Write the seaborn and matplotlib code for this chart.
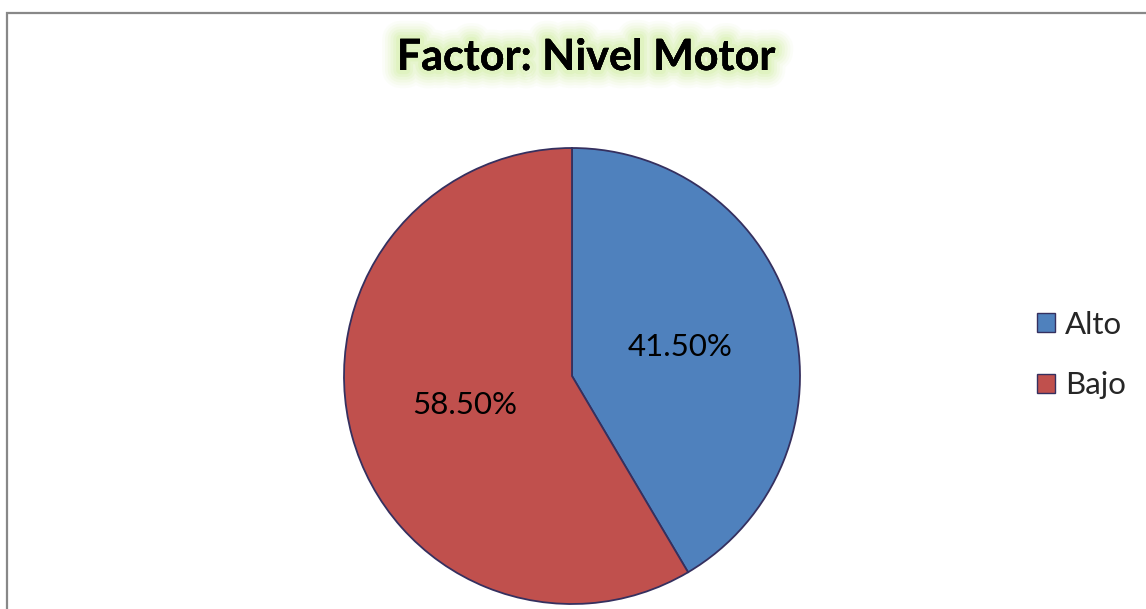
import matplotlib
matplotlib.use("Agg")
import matplotlib.pyplot as plt
import matplotlib.patheffects as pe
from matplotlib.patches import Rectangle, Patch
import seaborn as sns

categories = ["Alto", "Bajo"]
values = [41.5, 58.5]
colors = ["#4F81BD", "#C0504D"]
title = "Factor: Nivel Motor"

sns.set_theme(style="white")
plt.rcParams['font.family'] = ['Lato', 'DejaVu Sans']

W, H = 1146, 609
fig = plt.figure(figsize=(W / 100, H / 100), dpi=100)
fig.patch.set_facecolor("white")

# outer chart border (cropped at right/bottom)
fig.patches.append(Rectangle((6.5 / W, -0.05), 1.2, (H - 12.5) / H + 0.05,
                             transform=fig.transFigure, fill=False,
                             edgecolor="#888888", linewidth=1.6))

cx, cy, r = 572, H - 376, 228
ax = fig.add_axes([(cx - r) / W, (cy - r) / H, 2 * r / W, 2 * r / H])
wedges, texts, autotexts = ax.pie(
    values, colors=colors, startangle=90, counterclock=False,
    autopct=lambda p: f"{p:.2f}%", pctdistance=0.49,
    wedgeprops=dict(edgecolor="#35305f", linewidth=1.3),
    textprops=dict(fontsize=22.5, color="black"))
ax.set_xlim(-1, 1)
ax.set_ylim(-1, 1)
ax.set_aspect("auto")
ax.axis("off")

glow = [pe.withStroke(linewidth=w, foreground="#d4efa6", alpha=a)
        for w, a in [(26, 0.08), (22, 0.1), (18, 0.13), (14, 0.17),
                     (10, 0.22), (6, 0.3)]] + [pe.Normal()]
fig.text(586 / W, 1 - 70 / H, title, ha="center", va="baseline",
         fontsize=31, fontweight="bold", color="black", path_effects=glow)

handles = [Patch(facecolor=c, edgecolor="#35305f", linewidth=1.0) for c in colors]
fig.legend(handles, categories, loc="center left",
           bbox_to_anchor=(1037 / W, 1 - 355 / H), frameon=False,
           fontsize=22.5, handlelength=0.58, handleheight=0.58,
           handletextpad=0.32, labelspacing=1.04, borderaxespad=0,
           borderpad=0)

fig.savefig("out.png", dpi=100, facecolor="white")
